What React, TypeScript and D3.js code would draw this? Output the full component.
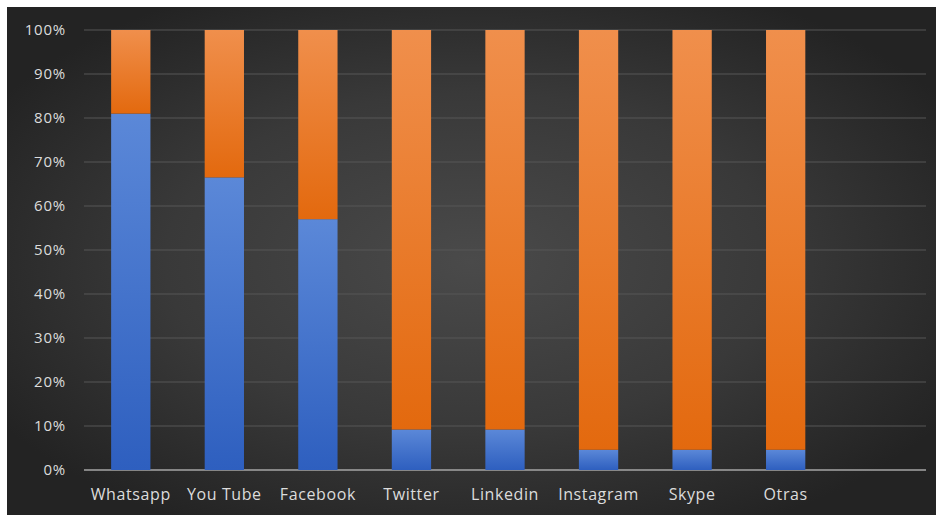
import * as d3 from "d3";

const categories = ["Whatsapp", "You Tube", "Facebook", "Twitter", "Linkedin", "Instagram", "Skype", "Otras", ""];
const bluePct = [81, 66.5, 57, 9.2, 9.2, 4.6, 4.6, 4.6, null];
const yTicks = [0, 10, 20, 30, 40, 50, 60, 70, 80, 90, 100];

const WIDTH = 936;
const HEIGHT = 515;
const PANEL = { x: 7, y: 7 };
const PLOT = { left: 84, right: 926, top: 30, bottom: 470 };

const FONT = "'Open Sans', 'Noto Sans', sans-serif";
const TEXT_COLOR = "#dcdcdc";

export default function App() {
  const xScale = d3
    .scaleBand()
    .domain(categories.map((c, i) => i + ":" + c))
    .range([PLOT.left, PLOT.right])
    .paddingInner(0.58)
    .paddingOuter(0.29);

  const yScale = d3.scaleLinear().domain([0, 100]).range([PLOT.bottom, PLOT.top]);

  const bars = categories.map((c, i) => {
    const blue = bluePct[i];
    if (blue === null) return null;
    const key = i + ":" + c;
    return { key, x: xScale(key) ?? 0, blue, orange: 100 - blue };
  });

  return (
    <div style={{ position: "absolute", left: 0, top: 0 }}>
      <svg width={WIDTH} height={HEIGHT} style={{ display: "block", background: "#fff" }}>
        <defs>
          <radialGradient id="bg" cx="50%" cy="50%" r="60%">
            <stop offset="0%" stopColor="#4a4a4a" />
            <stop offset="55%" stopColor="#393939" />
            <stop offset="100%" stopColor="#232323" />
          </radialGradient>
          <linearGradient id="blueGrad" x1="0" y1="0" x2="0" y2="1">
            <stop offset="0%" stopColor="#5b88d8" />
            <stop offset="100%" stopColor="#2e5fbf" />
          </linearGradient>
          <linearGradient id="orangeGrad" x1="0" y1="0" x2="0" y2="1">
            <stop offset="0%" stopColor="#f08f4c" />
            <stop offset="100%" stopColor="#e3690e" />
          </linearGradient>
        </defs>
        <rect x={PANEL.x} y={PANEL.y} width={WIDTH - PANEL.x} height={HEIGHT - PANEL.y} fill="url(#bg)" />

        {/* gridlines */}
        {yTicks.map((t) => (
          <line
            key={"g" + t}
            x1={PLOT.left}
            x2={PLOT.right}
            y1={yScale(t)}
            y2={yScale(t)}
            stroke={t === 0 ? "#a6a6a6" : "#575757"}
            strokeWidth={t === 0 ? 1.3 : 1}
          />
        ))}

        {/* y tick labels */}
        {yTicks.map((t) => (
          <text
            key={"yl" + t}
            x={66}
            y={yScale(t)}
            dy="0.35em"
            textAnchor="end"
            fill={TEXT_COLOR}
            fontFamily={FONT}
            fontSize={15}
            letterSpacing={0.8}
          >
            {t + "%"}
          </text>
        ))}

        {/* bars */}
        {bars.map((b) =>
          b === null ? null : (
            <g key={b.key}>
              <rect
                x={b.x}
                width={xScale.bandwidth()}
                y={yScale(b.blue)}
                height={yScale(0) - yScale(b.blue)}
                fill="url(#blueGrad)"
              />
              <rect
                x={b.x}
                width={xScale.bandwidth()}
                y={yScale(100)}
                height={yScale(b.blue) - yScale(100)}
                fill="url(#orangeGrad)"
              />
            </g>
          )
        )}

        {/* x labels */}
        {categories.map((c, i) => (
          <text
            key={"xl" + i}
            x={(xScale(i + ":" + c) ?? 0) + xScale.bandwidth() / 2}
            y={494}
            dy="0.35em"
            textAnchor="middle"
            fill={TEXT_COLOR}
            fontFamily={FONT}
            fontSize={16}
            letterSpacing={0.6}
          >
            {c}
          </text>
        ))}
      </svg>
    </div>
  );
}
